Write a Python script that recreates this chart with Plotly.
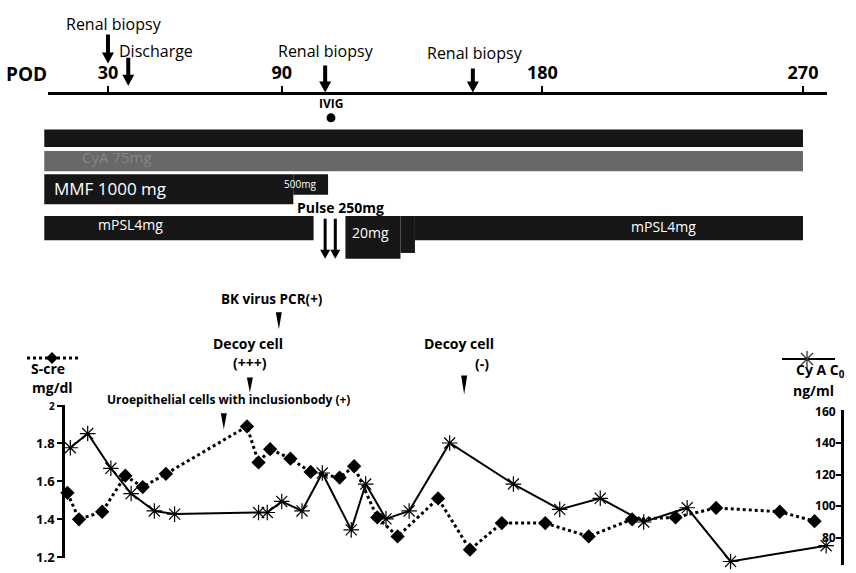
import plotly.graph_objects as go

# ---------------- data ----------------
TIMELINE_TICKS = [30, 90, 180, 270]

RENAL_BIOPSY_DAYS = [30, 105, 156]
DISCHARGE_DAY = 37
IVIG_DAY = 107

REGIMEN_START = 8
REGIMEN_END = 270
CYA_DOSE_LABEL = "CyA 75mg"

MMF_START = [8, 94]
MMF_END = [94, 106]
MMF_DOSE = [1000, 500]

MPSL_START = [8, 112, 131, 136]
MPSL_END = [101, 131, 136, 270]
MPSL_DOSE = [4, 20, 15, 4]

PULSE_DAYS = [105, 108.5]

URO_DAY = 70
DECOY_POS_DAY = 79
BK_DAY = 89
DECOY_NEG_DAY = 153

SCRE_DAYS = [16, 20, 28, 36, 42, 50, 78, 82, 86, 93, 100, 110, 115, 123, 130,
             144, 155, 166, 181, 196, 211, 226, 240, 262, 274]
SCRE_VALUES = [1.54, 1.40, 1.44, 1.63, 1.57, 1.64, 1.89, 1.70, 1.77, 1.72, 1.65,
               1.62, 1.68, 1.41, 1.31, 1.51, 1.24, 1.38, 1.38, 1.31, 1.40, 1.41,
               1.46, 1.44, 1.39]
CYA_DAYS = [17, 23, 31, 38, 46, 53, 82, 85, 90, 97, 104, 114, 119, 126, 134,
            148, 170, 186, 200, 215, 230, 245, 278]
CYA_VALUES = [137, 146, 124, 108, 97, 95, 96, 96, 103, 97, 121, 85, 114, 92, 97,
              140, 114, 98, 105, 90, 99, 65, 75]

SCRE_TICKS = [1.2, 1.4, 1.6, 1.8, 2.0]
SCRE_TICKTEXT = ["1.2", "1.4", "1.6", "1.8", "<span style='font-size:10px'>2</span>"]
CYA_TICKS = [80, 100, 120, 140, 160]

# ---------------- layout / style ----------------
W, H = 856, 573
FONT = "Open Sans"
X_LEFT, X_RIGHT = -7.286, 288.31   # POD at left/right edge of the page
SCRE_PX_PER_UNIT = 195.0
CYA_PX_PER_UNIT = 1.625


def py(y):
    return 1 - y / H


def pxf(x):
    return x / W


def top_range(a, b):
    return [X_LEFT + a * (X_RIGHT - X_LEFT), X_LEFT + b * (X_RIGHT - X_LEFT)]


fig = go.Figure()

# IVIG dot on the timeline axis
fig.add_trace(go.Scatter(x=[IVIG_DAY], y=[0.5], xaxis="x", yaxis="y3", mode="markers",
                         marker=dict(color="black", size=9), hoverinfo="skip",
                         showlegend=False))

# S-cre
fig.add_trace(go.Scatter(x=SCRE_DAYS, y=SCRE_VALUES, xaxis="x2", yaxis="y",
                         mode="lines+markers", cliponaxis=False,
                         line=dict(color="black", width=3, dash="dot"),
                         marker=dict(symbol="diamond", size=11, color="black"),
                         showlegend=False, name="S-cre"))
# CyA C0
fig.add_trace(go.Scatter(x=CYA_DAYS, y=CYA_VALUES, xaxis="x2", yaxis="y2",
                         mode="lines+markers", cliponaxis=False,
                         line=dict(color="black", width=2),
                         marker=dict(symbol="asterisk-open", size=13,
                                     line=dict(color="#3a3a3a", width=1.2)),
                         showlegend=False, name="CyA C0"))

shapes = []


def rect(x0, x1, ytop, ybot, color):
    return dict(type="rect", xref="x2", yref="paper", x0=x0, x1=x1, y0=py(ybot), y1=py(ytop),
                fillcolor=color, line=dict(width=0), layer="below")


BLACK = "#161616"
shapes.append(rect(REGIMEN_START, REGIMEN_END, 125, 143, BLACK))
shapes.append(rect(REGIMEN_START, REGIMEN_END, 147, 168, "#686868"))
for s, e, d in zip(MMF_START, MMF_END, MMF_DOSE):
    shapes.append(rect(s, e, 171, 171 + 11 + 0.02 * d, BLACK))
for s, e, d in zip(MPSL_START, MPSL_END, MPSL_DOSE):
    shapes.append(rect(s, e, 214, 214 + 20 + 1.2 * d, BLACK))


def down_arrow(day, y_top, y_tip, shaft, head, head_len, color="black"):
    L = y_tip - y_top
    path = (f"M 0,0 L {-head},{head_len} L {-shaft},{head_len} L {-shaft},{L} "
            f"L {shaft},{L} L {shaft},{head_len} L {head},{head_len} Z")
    return dict(type="path", xref="x2", yref="paper", xsizemode="pixel", ysizemode="pixel",
                xanchor=day, yanchor=py(y_tip), path=path, fillcolor=color,
                line=dict(width=0))


def wedge(day, y_top, length, half=3):
    path = f"M {-half},0 L {half},0 L 0,{-length} Z"
    return dict(type="path", xref="x2", yref="paper", xsizemode="pixel", ysizemode="pixel",
                xanchor=day, yanchor=py(y_top), path=path, fillcolor="black",
                line=dict(width=0))


BIOPSY_ARROW_TOP = [28, 60, 63]
BIOPSY_ARROW_TIP = [57, 87, 87]
for d, t, b in zip(RENAL_BIOPSY_DAYS, BIOPSY_ARROW_TOP, BIOPSY_ARROW_TIP):
    shapes.append(down_arrow(d, t, b, 2, 6, 11))
shapes.append(down_arrow(DISCHARGE_DAY, 52, 80, 2, 6, 11))
for d in PULSE_DAYS:
    shapes.append(down_arrow(d, 218, 258, 1.5, 5, 9))

shapes.append(wedge(BK_DAY, 313, 17))
shapes.append(wedge(DECOY_POS_DAY, 380, 15))
shapes.append(wedge(URO_DAY, 417, 16))
shapes.append(wedge(DECOY_NEG_DAY, 378, 19))

# legend glyphs
shapes.append(dict(type="line", xref="paper", yref="paper", x0=pxf(27), x1=pxf(80),
                   y0=py(360), y1=py(360), line=dict(color="black", width=3, dash="dot")))
shapes.append(dict(type="path", xref="paper", yref="paper", xsizemode="pixel",
                   ysizemode="pixel", xanchor=pxf(52), yanchor=py(360),
                   path="M -6,0 L 0,6 L 6,0 L 0,-6 Z", fillcolor="black",
                   line=dict(width=0)))
shapes.append(dict(type="line", xref="paper", yref="paper", x0=pxf(782), x1=pxf(835),
                   y0=py(361), y1=py(361), line=dict(color="black", width=2)))
shapes.append(dict(type="path", xref="paper", yref="paper", xsizemode="pixel",
                   ysizemode="pixel", xanchor=pxf(807), yanchor=py(361),
                   path="M 0,-8 L 0,8 M -6,-6 L 6,6 M -6,6 L 6,-6",
                   line=dict(color="#333333", width=1.3)))

ann = []


def txt(x, y, text, size, bold=False, color="black", xref="paper", xanchor="center",
        xshift=0):
    ann.append(dict(x=x, y=py(y - 0.15 * size), xref=xref, yref="paper",
                    text=f"<b>{text}</b>" if bold else text, showarrow=False,
                    font=dict(family=FONT, size=size, color=color), xanchor=xanchor,
                    yanchor="middle", xshift=xshift, borderpad=0))


for d, ylab, sh in zip(RENAL_BIOPSY_DAYS, [19, 47, 49], [6, 1, 2]):
    txt(d, ylab, "Renal biopsy", 16, xref="x2", xshift=sh)
txt(DISCHARGE_DAY, 47, "Discharge", 16, xref="x2", xanchor="left", xshift=-10)
txt(pxf(27), 71, "POD", 19, bold=True)
txt(IVIG_DAY, 100, "IVIG", 12, bold=True, xref="x2")

txt(pxf(117), 156, CYA_DOSE_LABEL, 15, color="#858585")
txt(pxf(110), 188, "MMF 1000 mg", 17, color="white")
txt(pxf(300), 183, "500mg", 10, color="white")
txt(pxf(340), 207, "Pulse 250mg", 14, bold=True)
txt(pxf(130), 225, "mPSL4mg", 14, color="white")
txt(pxf(370), 233, "20mg", 14, color="white")
txt(pxf(663), 227, "mPSL4mg", 14, color="white")

txt(BK_DAY, 301, "BK virus PCR(+)", 13.5, bold=True, xref="x2", xshift=-7)
txt(DECOY_POS_DAY, 347, "Decoy cell", 14, bold=True, xref="x2", xshift=-2)
txt(DECOY_POS_DAY, 367, "(+++)", 14, bold=True, xref="x2")
txt(URO_DAY, 405, "Uroepithelial cells with inclusionbody (+)", 12, bold=True,
    xref="x2", xshift=5)
txt(DECOY_NEG_DAY, 347, "Decoy cell", 14, bold=True, xref="x2", xshift=-5)
txt(DECOY_NEG_DAY, 368, "(-)", 14, bold=True, xref="x2", xshift=18)

txt(pxf(48), 373, "S-cre", 14, bold=True)
txt(pxf(52), 393, "mg/dl", 14, bold=True)
txt(pxf(820), 375, "Cy A C<sub>0</sub>", 14, bold=True)
txt(pxf(813), 396, "ng/ml", 14, bold=True)

axis_common = dict(showgrid=False, zeroline=False, linecolor="black")

scre_pad = 1 / SCRE_PX_PER_UNIT
cya_pad = 1 / CYA_PX_PER_UNIT

fig.update_layout(
    width=W, height=H, autosize=False,
    margin=dict(l=0, r=0, t=0, b=0),
    paper_bgcolor="white", plot_bgcolor="rgba(0,0,0,0)",
    font=dict(family=FONT, color="black"),
    xaxis=dict(domain=[pxf(48), pxf(827)], range=top_range(pxf(48), pxf(827)),
               anchor="free", position=py(87), side="top", showline=True, linewidth=2.5,
               ticks="outside", ticklen=6, tickwidth=2, tickcolor="black",
               tickvals=TIMELINE_TICKS, ticktext=[f"<b>{t}</b>" for t in TIMELINE_TICKS],
               tickfont=dict(family=FONT, size=18, color="black"), **axis_common),
    xaxis2=dict(domain=[0, 1], range=[X_LEFT, X_RIGHT], anchor="y", visible=False),
    yaxis=dict(domain=[py(566), py(408)], range=[1.2 - scre_pad, 2.0 + scre_pad],
               anchor="free", position=pxf(63), showline=True, linewidth=2.5,
               ticks="outside", ticklen=5, tickwidth=2, tickcolor="black",
               tickvals=SCRE_TICKS, ticktext=[f"<b>{t}</b>" for t in SCRE_TICKTEXT],
               ticklabeloverflow="allow",
               tickfont=dict(family=FONT, size=13, color="black"), **axis_common),
    yaxis2=dict(domain=[0, py(414)], range=[160 - 158 / CYA_PX_PER_UNIT, 160 + cya_pad],
                anchor="free", position=pxf(842), side="right", showline=True,
                linewidth=2.5, ticks="inside", ticklen=5, tickwidth=2, tickcolor="black",
                ticklabelposition="inside", ticklabeloverflow="allow", tickvals=CYA_TICKS,
                ticktext=[f"<b>{t}</b>" for t in CYA_TICKS],
                tickfont=dict(family=FONT, size=12, color="black"), **axis_common),
    yaxis3=dict(domain=[py(120), py(106)], range=[0, 1], anchor="free", position=0,
                visible=False),
    shapes=shapes,
    annotations=ann,
)

fig.write_html("out.html", config={"displayModeBar": False},
               post_script="document.body.style.margin='0';")
